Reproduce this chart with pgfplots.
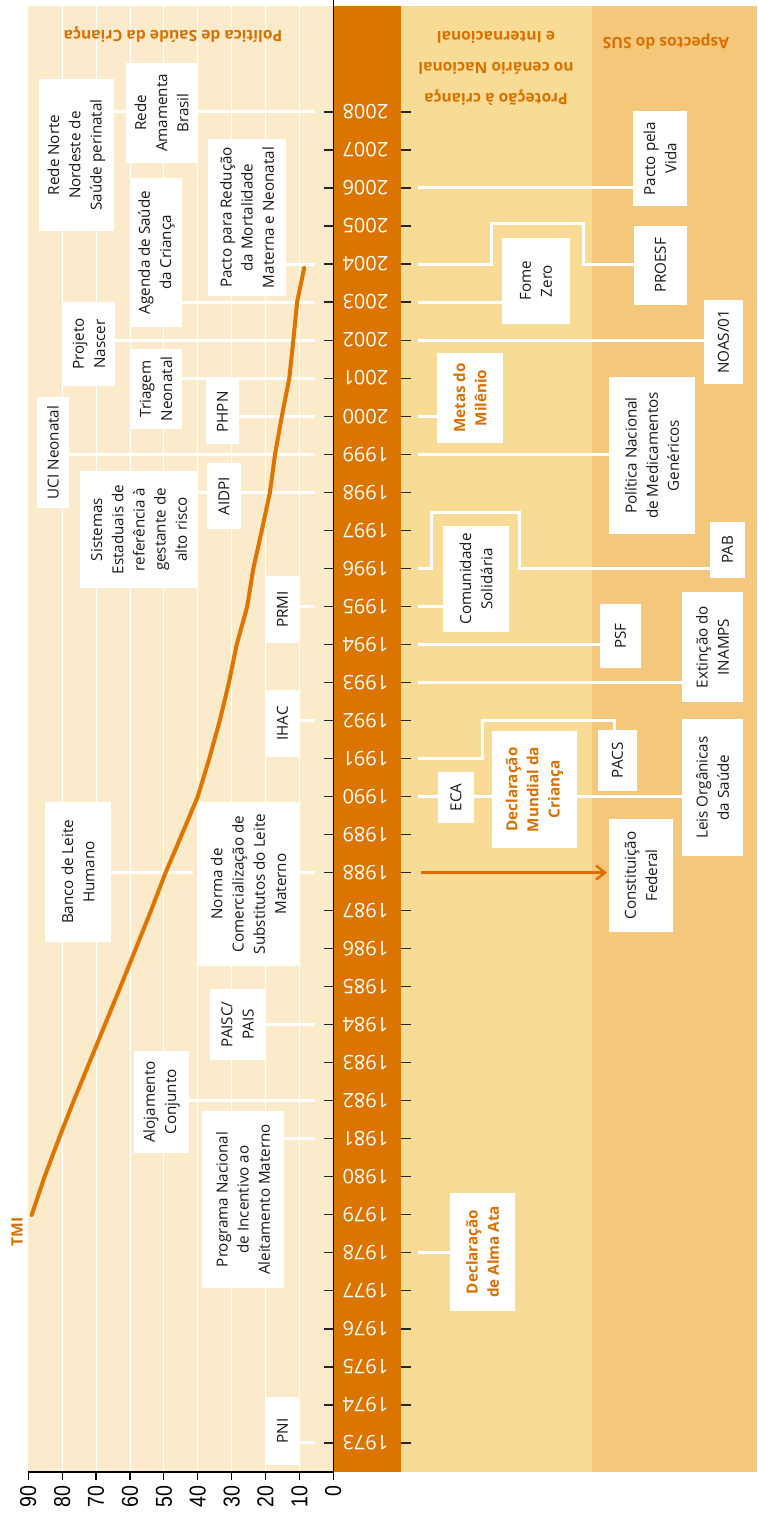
\documentclass[border=0pt]{standalone}
\usepackage{fontspec}
\setmainfont{Open Sans}
\newfontfamily\tickfont[FakeStretch=0.85]{Liberation Sans}
\usepackage{pgfplots}
\pgfplotsset{compat=1.18}
\usetikzlibrary{arrows.meta}
\definecolor{cream}{HTML}{FBEBCB}
\definecolor{bandorange}{HTML}{DC7400}
\definecolor{midband}{HTML}{F8DB95}
\definecolor{rightband}{HTML}{F5C77B}
\definecolor{curveor}{HTML}{DE7500}
\definecolor{txtor}{HTML}{DB7000}
\newcommand\boxfont{\fontsize{7.6}{10.6}\selectfont}
\newcommand\hdrfont{\bfseries\fontsize{7.8}{15.3}\selectfont}
\newcommand\yrfont{\fontsize{10}{12}\selectfont}
\newcommand\bx[5]{\fill[white] (#1,#2) rectangle (#3,#4);
  \node[rotate=90,align=center,font=\boxfont,text=black!90,inner sep=0pt] at ({(#1+#3)/2},{(#2+#4)/2}) {#5};}
\newcommand\obx[5]{\fill[white] (#1,#2) rectangle (#3,#4);
  \node[rotate=90,align=center,font=\boxfont\bfseries,text=txtor,inner sep=0pt] at ({(#1+#3)/2},{(#2+#4)/2}) {#5};}
\begin{document}
\begin{tikzpicture}
\path[use as bounding box] (-14.15pt,-21.5pt) rectangle (364.35pt,736pt);
\begin{scope}[x=0.5pt,y=-0.5pt,shift={(-14.15pt,736pt)}]
% bands
\fill[cream] (28.3,6) rectangle (333.3,1472);
\fill[bandorange] (333.3,6) rectangle (400.5,1472);
\fill[midband] (400.5,6) rectangle (592,1472);
\fill[rightband] (592,6) rectangle (757,1472);
\foreach \g in {299.4,265.5,231.6,197.7,163.8,130.0,96.1,62.2}
  \draw[white,line width=0.5pt] (\g,6) -- (\g,1472);
% headers
\node[rotate=180,text=txtor,font=\hdrfont,align=center] at (173,35) {Política de Saúde da Criança};
\node[rotate=180,text=txtor,font=\hdrfont,align=center] at (496,68.5) {Proteção à criança\\no cenário Nacional\\e Internacional};
\node[rotate=180,text=txtor,font=\hdrfont,align=center] at (666,42) {Aspectos do SUS};
\node[rotate=90,text=txtor,font=\bfseries\fontsize{7.8}{9}\selectfont] at (17,1232) {TMI};
% connectors left
\begin{scope}[white,line width=1.5pt]
\draw (299,1443) -- (315,1443);
\draw (284,1138.8) -- (315,1138.8);
\draw (189,1100.7) -- (315,1100.7);
\draw (265,1024.7) -- (315,1024.7);
\draw (299,872.6) -- (315,872.6);
\draw (111,872.6) -- (193,872.6);
\draw (299,720.4) -- (315,720.4);
\draw (299,606.4) -- (315,606.4);
\draw (198,492.3) -- (315,492.3);
\draw (69,454.2) -- (315,454.2);
\draw (239,416.2) -- (315,416.2);
\draw (182,378.2) -- (315,378.2);
\draw (115,340.2) -- (315,340.2);
\draw (182,302.1) -- (315,302.1);
\draw (286,264.1) -- (315,264.1);
\draw (114,112) -- (315,112);
% connectors right
\draw (418,1252.9) -- (450,1252.9);
\draw (418,796.5) -- (682,796.5);
\draw (418,758.5) -- (482,758.5) -- (482,720.4) -- (614,720.4) -- (614,730);
\draw (418,682.4) -- (682,682.4);
\draw (418,644.4) -- (600,644.4);
\draw (418,606.4) -- (443,606.4);
\draw (418,568.3) -- (431,568.3) -- (431,513) -- (519,513) -- (519,568.3) -- (710,568.3);
\draw (418,454.2) -- (609,454.2);
\draw (418,416.2) -- (437,416.2);
\draw (418,340.2) -- (704,340.2);
\draw (418,302.1) -- (502,302.1);
\draw (418,264.1) -- (491,264.1) -- (491,224) -- (583,224) -- (583,264.1) -- (634,264.1);
\draw (418,188) -- (633,188);
\end{scope}
\draw[txtor,line width=1.2pt,-{Straight Barb[length=4.5pt,width=7pt]}] (421,872.6) -- (607,872.6);
% boxes left
\bx{266}{1397}{299}{1465}{PNI}
\bx{202}{1111}{284}{1288}{Programa Nacional\\de Incentivo ao\\Aleitamento Materno}
\bx{134}{1051}{189}{1153}{Alojamento\\Conjunto}
\bx{210}{989}{265}{1060}{PAISC/\\PAIS}
\bx{198}{802}{299}{966}{Norma de\\Comercialização de\\Substitutos do Leite\\Materno}
\bx{45}{802}{111}{942}{Banco de Leite\\Humano}
\bx{266}{690}{299}{757}{IHAC}
\bx{266}{576}{299}{643}{PRMI}
\bx{80}{471}{198}{588}{Sistemas\\Estaduais de\\referência à\\gestante de\\alto risco}
\bx{207}{463}{241}{529}{AIDPI}
\bx{37}{397}{69}{508}{UCI Neonatal}
\bx{206}{380}{239}{444}{PHPN}
\bx{130}{349}{182}{429}{Triagem\\Neonatal}
\bx{63}{302}{115}{386}{Projeto\\Nascer}
\bx{131}{178}{182}{327}{Agenda de Saúde\\da Criança}
\bx{208}{139}{286}{296}{Pacto para Redução\\da Mortalidade\\Materna e Neonatal}
\bx{126}{63}{197}{163}{Rede\\Amamenta\\Brasil}
\bx{39}{79}{114}{231}{Rede Norte\\Nordeste de\\Saúde perinatal}
% boxes right
\obx{450}{1193}{515}{1311}{Declaração\\de Alma Ata}
\bx{609}{819}{673}{932}{Constituição\\Federal}
\bx{438}{772}{474}{823}{ECA}
\obx{492}{731}{577}{848}{Declaração\\Mundial da\\Criança}
\bx{682}{719}{743}{856}{Leis Orgânicas\\da Saúde}
\bx{598}{730}{637}{791}{PACS}
\bx{682}{592}{743}{702}{Extinção do\\INAMPS}
\bx{600}{604}{641}{668}{PSF}
\bx{443}{526}{509}{632}{Comunidade\\Solidária}
\bx{710}{522}{745}{578}{PAB}
\bx{609}{377}{695}{534}{Política Nacional\\de Medicamentos\\Genéricos}
\obx{437}{353}{503}{443}{Metas do\\Milênio}
\bx{704}{300}{743}{384}{NOAS/01}
\bx{502}{238}{570}{324}{Fome\\Zero}
\bx{634}{226}{687}{305}{PROESF}
\bx{633}{111}{687}{206}{Pacto pela\\Vida}
% year ticks and labels
\foreach \i in {0,...,35} {
  \pgfmathsetmacro\yy{1443-38.03*\i}
  \pgfmathtruncatemacro\yr{1973+\i}
  \draw[black!85,line width=0.6pt] (324,\yy) -- (333.3,\yy) (400.5,\yy) -- (410.7,\yy);
  \node[rotate=180,text=white,font=\yrfont,inner sep=0pt] at (365.5,\yy) {\yr};
}
\end{scope}
\begin{axis}[
  at={(0pt,0pt)}, anchor=south west,
  scale only axis, width=364.35pt, height=733pt,
  x dir=reverse, xmin=-125, xmax=90, ymin=1972.24, ymax=2010.79,
  clip=false,
  axis x line*=bottom, axis y line=none,
  x axis line style={draw=none},
  xtick={0,10,...,90}, ytick=\empty,
  tick align=outside, major tick length=4pt,
  every tick/.style={black, line width=0.6pt},
  xticklabel style={rotate=90, anchor=east, inner sep=2.5pt, font=\tickfont\fontsize{11.5}{13}\selectfont},
  /pgf/number format/assume math mode=true,
]
\addplot[curveor, line width=2pt, line cap=round, line join=round, mark=none] coordinates {
(89.0,1979) (85.2,1980) (81.0,1981) (76.6,1982) (72.0,1983) (67.4,1984) (62.8,1985)
(58.3,1986) (53.8,1987) (49.5,1988) (44.7,1989) (40.0,1990) (36.6,1991) (33.5,1992)
(30.8,1993) (28.5,1994) (25.4,1995) (23.6,1996) (21.1,1997) (18.7,1998) (17.2,1999)
(15.2,2000) (13.0,2001) (11.8,2002) (10.7,2003) (8.6,2003.9)
};
\draw[black,line width=0.65pt] (axis cs:90,1972.24) -- (axis cs:0,1972.24);
\draw[black,line width=0.5pt] (axis cs:0,1972.24) -- (axis cs:0,2010.95);
\end{axis}
\end{tikzpicture}
\end{document}
